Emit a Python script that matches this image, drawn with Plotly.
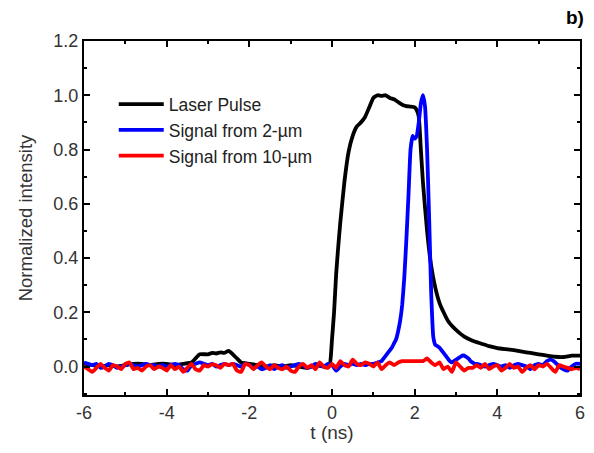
import numpy as np
import plotly.graph_objects as go

# ---- Laser pulse (black) ----
laser_t = [-6.0, -5.8, -5.6, -5.4, -5.2, -5.0, -4.8, -4.6, -4.4, -4.2, -4.0, -3.8, -3.6,
           -3.4, -3.3, -3.2, -3.0, -2.9, -2.8, -2.7, -2.6, -2.5, -2.4, -2.3, -2.2, -2.0,
           -1.8, -1.6, -1.4, -1.2, -1.0, -0.8, -0.6, -0.4, -0.2, -0.1, -0.05,
           0.0, 0.05, 0.1, 0.15, 0.2, 0.3, 0.4, 0.5, 0.6, 0.7, 0.8, 0.9, 1.0, 1.1, 1.2,
           1.3, 1.4, 1.5, 1.6, 1.7, 1.8, 1.9, 2.0, 2.05, 2.1, 2.15, 2.2, 2.3, 2.4, 2.5,
           2.6, 2.7, 2.8, 2.9, 3.0, 3.2, 3.4, 3.6, 3.8, 4.0, 4.2, 4.4, 4.6, 4.8, 5.0,
           5.2, 5.4, 5.6, 5.8, 6.0]
laser_v = [0.01, 0.005, 0.0, 0.005, 0.0, 0.005, 0.01, 0.01, 0.005, 0.01, 0.01, 0.005, 0.01,
           0.015, 0.03, 0.045, 0.045, 0.05, 0.048, 0.052, 0.05, 0.058, 0.045, 0.03, 0.015, 0.01,
           0.005, 0.0, 0.005, 0.0, 0.005, 0.0, -0.005, 0.005, 0.0, 0.005, 0.01,
           0.1, 0.2, 0.34, 0.44, 0.53, 0.68, 0.79, 0.85, 0.885, 0.9, 0.92, 0.955, 0.99, 1.0, 0.998,
           1.0, 0.99, 0.985, 0.975, 0.965, 0.96, 0.958, 0.955, 0.945, 0.92, 0.8, 0.68, 0.5, 0.37, 0.29,
           0.235, 0.2, 0.17, 0.15, 0.135, 0.11, 0.095, 0.085, 0.075, 0.068, 0.064, 0.06, 0.055, 0.05, 0.045,
           0.04, 0.036, 0.035, 0.04, 0.04]

# ---- Signal from 2-um (blue) ----
blue_t = (list(np.round(np.arange(-6.0, 1.15, 0.1), 2))
          + list(np.round(np.arange(1.2, 3.525, 0.05), 2))
          + list(np.round(np.arange(3.6, 6.05, 0.1), 2)))
blue_v = [0.015, 0.01, 0.005, 0.01, -0.005, 0.0, 0.01, 0.005, -0.005, 0.0,
          0.005, 0.01, 0.005, 0.0, 0.005, 0.01, 0.005, 0.005, 0.0, 0.005,
          0.0, 0.005, 0.01, 0.005, -0.01, -0.015, 0.005, 0.01, 0.015, 0.01,
          0.005, 0.01, 0.0, 0.005, 0.01, 0.005, 0.01, 0.005, 0.0, 0.01,
          0.005, -0.005, 0.0, -0.01, -0.005, 0.005, -0.01, 0.0, 0.005, -0.005,
          0.0, 0.005, 0.01, 0.005, -0.005, 0.0, 0.01, 0.005, 0.0, 0.01,
          0.005, -0.015, 0.0, 0.01, 0.005, 0.01, 0.005, 0.01, 0.005, 0.01, 0.01, 0.015,
          # peak region 1.2 .. 3.5
          0.02, 0.03, 0.04, 0.05, 0.06, 0.07, 0.085, 0.1, 0.13, 0.17,
          0.23, 0.33, 0.47, 0.63, 0.8, 0.85, 0.84, 0.85, 0.9, 0.97,
          1.0, 0.96, 0.8, 0.55, 0.27, 0.11, 0.08, 0.075, 0.07, 0.06,
          0.05, 0.04, 0.03, 0.02, 0.015, 0.02, 0.025, 0.03, 0.035, 0.04,
          0.04, 0.035, 0.03, 0.02, 0.015, 0.01, 0.01,
          # 3.6 .. 6.0
          0.005, 0.0, 0.005, 0.01, 0.005, 0.0, 0.005, -0.005, 0.005, 0.01,
          0.005, 0.0, -0.01, 0.005, 0.01, 0.005, 0.02, 0.025, 0.015, 0.0,
          -0.01, -0.015, 0.0, 0.01, 0.01]

# ---- Signal from 10-um (red) ----
red_t = list(np.round(np.arange(-6.0, 6.05, 0.1), 2))
red_v = [0.0, -0.01, -0.02, -0.005, 0.01, -0.005, -0.015, 0.005, 0.0, -0.01, 0.01,
         0.015, -0.01, -0.005, -0.015, 0.0, 0.005, -0.01, 0.0, -0.005, -0.015,
         0.005, -0.01, 0.0, -0.02, -0.005, 0.01, -0.01, -0.015, 0.005, 0.0,
         0.008, 0.005, -0.005, 0.01, 0.005, 0.01, -0.015, -0.02, 0.01, 0.005,
         -0.01, 0.005, 0.015, 0.0, -0.01, 0.005, -0.005, -0.01, 0.0, -0.015,
         -0.02, 0.0, 0.01, -0.005, 0.005, -0.01, 0.015, 0.0, -0.005, 0.01,
         -0.005, 0.02, 0.005, 0.0, 0.025, 0.01, 0.005, 0.015, 0.01, 0.0,
         0.015, -0.01, 0.005, 0.015, 0.005, 0.015, 0.02, 0.02, 0.02, 0.02,
         0.02, 0.02, 0.03, 0.015, 0.005, 0.015, -0.01, 0.0, -0.02, 0.015,
         0.0, -0.015, -0.005, -0.005, 0.005, -0.005, 0.01, -0.01, 0.0, 0.005,
         -0.015, -0.005, 0.01, -0.005, 0.0, -0.02, -0.005, 0.005, -0.01, 0.005,
         0.0, 0.01, -0.005, -0.02, 0.005, 0.0, -0.005, -0.01, -0.005, -0.01]

series_names = ["Laser Pulse", "Signal from 2-µm", "Signal from 10-µm"]
x_ticks = [-6, -4, -2, 0, 2, 4, 6]
y_ticks = [0.0, 0.2, 0.4, 0.6, 0.8, 1.0, 1.2]

FONT = "Liberation Sans, Arial, sans-serif"
TXT = "#333333"

fig = go.Figure()
fig.add_trace(go.Scatter(x=laser_t, y=laser_v, mode="lines", name=series_names[0],
                         line=dict(color="black", width=3.8, shape="spline", smoothing=0.4)))
fig.add_trace(go.Scatter(x=blue_t, y=blue_v, mode="lines", name=series_names[1],
                         line=dict(color="#0000ff", width=3.8, shape="spline", smoothing=0.4)))
fig.add_trace(go.Scatter(x=red_t, y=red_v, mode="lines", name=series_names[2],
                         line=dict(color="#ff0000", width=3.8, shape="spline", smoothing=0.4)))

axis_common = dict(showline=True, linecolor="black", linewidth=2, mirror="ticks",
                   ticks="inside", ticklen=6, tickwidth=1.5, tickcolor="black",
                   showgrid=False, zeroline=False, automargin=False,
                   tickfont=dict(family=FONT, size=18, color=TXT))

fig.update_xaxes(range=[-6, 6], tickvals=x_ticks, ticktext=[str(v) for v in x_ticks],
                 minor=dict(ticks="inside", dtick=1, ticklen=3, tickwidth=1.5, tickcolor="black"),
                 title=dict(text="t (ns)", font=dict(family=FONT, size=19, color=TXT), standoff=8),
                 **axis_common)
fig.update_yaxes(range=[-0.105, 1.2], tickvals=y_ticks, ticktext=[f"{v:.1f}" for v in y_ticks],
                 minor=dict(ticks="inside", dtick=0.1, tick0=0, ticklen=3, tickwidth=1.5, tickcolor="black"),
                 title=dict(text="Normalized intensity", font=dict(family=FONT, size=18.5, color=TXT), standoff=16),
                 **axis_common)

fig.update_layout(
    width=580, height=435,
    margin=dict(l=76, r=8, t=33, b=48),
    plot_bgcolor="white", paper_bgcolor="white",
    font=dict(family=FONT, color=TXT),
    legend=dict(x=0.06, y=0.872, xanchor="left", yanchor="top",
                font=dict(family=FONT, size=17.5, color="#222222"),
                bgcolor="rgba(0,0,0,0)", itemwidth=45, tracegroupgap=0),
    showlegend=True,
    annotations=[dict(text="<b>b)</b>", xref="paper", yref="paper", x=1.0, y=1.0,
                      xanchor="right", yanchor="bottom", xshift=6, yshift=11, showarrow=False,
                      font=dict(family=FONT, size=19, color="black"))],
)

fig.write_html("out.html")
